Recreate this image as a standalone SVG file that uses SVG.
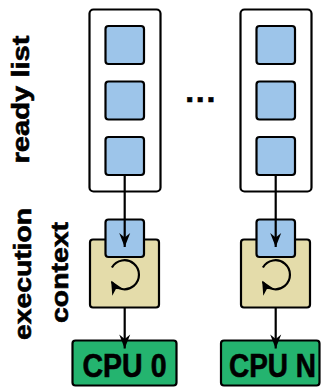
<svg xmlns="http://www.w3.org/2000/svg" width="330" height="387" viewBox="0 0 330 387">
  <style>
    .list { fill: #ffffff; stroke: #000; stroke-width: 2.2; }
    .task { fill: #9dc5ea; stroke: #000; stroke-width: 2.2; }
    .ctx { fill: #e4dcaa; stroke: #000; stroke-width: 2.2; }
    .cpu { fill: #24b46f; stroke: #000; stroke-width: 2.2; }
    .label { font-family: "Liberation Sans", Arial, sans-serif; font-weight: bold; fill: #000; stroke: #000; stroke-width: 0.6; }
    .edge { fill: none; stroke: #000; stroke-width: 2.2; }
  </style>
  <defs>
    <marker id="head" viewBox="-15 -6 16 12" markerWidth="16" markerHeight="12" refX="0" refY="0" orient="auto" markerUnits="userSpaceOnUse">
      <path d="M0,0 L-14,-5.5 L-9.5,0 L-14,5.5 Z" fill="#000"/>
    </marker>
    <marker id="spin" viewBox="-14 -7 16 14" markerWidth="16" markerHeight="14" refX="0" refY="0" orient="auto" markerUnits="userSpaceOnUse">
      <path d="M1.5,0 L-12,-6.5 L-8,0 L-12,6.5 Z" fill="#000"/>
    </marker>
  </defs>

  <!-- side labels -->
  <g id="label-ready">
    <text class="label" transform="translate(29,99.5) rotate(-90)" text-anchor="middle" font-size="24" textLength="128" lengthAdjust="spacingAndGlyphs">ready list</text>
  </g>
  <g id="label-context">
    <text class="label" transform="translate(30.5,274) rotate(-90)" text-anchor="middle" font-size="24" textLength="132" lengthAdjust="spacingAndGlyphs">execution</text>
    <text class="label" transform="translate(67.5,272.5) rotate(-90)" text-anchor="middle" font-size="24" textLength="101" lengthAdjust="spacingAndGlyphs">context</text>
  </g>

  <!-- CPU 0 column -->
  <g id="ready-list-0">
    <rect class="list" x="89.5" y="9.5" width="71" height="182" rx="4"/>
    <rect class="task" x="105.5" y="26" width="38.5" height="38" rx="3"/>
    <rect class="task" x="105.5" y="81.5" width="38.5" height="38" rx="3"/>
    <rect class="task" x="105.5" y="137" width="38.5" height="38" rx="3"/>
  </g>
  <g id="context-0">
    <rect class="ctx" x="90" y="239.5" width="69" height="68" rx="3"/>
    <rect class="task" x="105.5" y="219.5" width="38.5" height="37.5" rx="3"/>
    <path class="edge" d="M111.9,267.5 A14.5,14.5 0 1 1 111.9,282" stroke-width="2.4" marker-end="url(#spin)"/>
  </g>
  <g id="cpu-0">
    <rect class="cpu" x="72.5" y="340.5" width="104" height="45" rx="3"/>
    <text class="label" x="124.5" y="376.7" text-anchor="middle" font-size="32.5" textLength="84" lengthAdjust="spacingAndGlyphs">CPU 0</text>
  </g>

  <!-- ellipsis between columns -->
  <g id="more">
    <text class="label" x="185.3" y="101.7" font-size="32" textLength="30" lengthAdjust="spacing">...</text>
  </g>

  <!-- CPU N column -->
  <g id="ready-list-n">
    <rect class="list" x="240.5" y="9.5" width="71" height="182" rx="4"/>
    <rect class="task" x="256.5" y="26" width="38.5" height="38" rx="3"/>
    <rect class="task" x="256.5" y="81.5" width="38.5" height="38" rx="3"/>
    <rect class="task" x="256.5" y="137" width="38.5" height="38" rx="3"/>
  </g>
  <g id="context-n">
    <rect class="ctx" x="241" y="239.5" width="69" height="68" rx="3"/>
    <rect class="task" x="256.5" y="219.5" width="38.5" height="37.5" rx="3"/>
    <path class="edge" d="M262.9,267.5 A14.5,14.5 0 1 1 262.9,282" stroke-width="2.4" marker-end="url(#spin)"/>
  </g>
  <g id="cpu-n">
    <rect class="cpu" x="221" y="340.5" width="98.5" height="45" rx="3"/>
    <text class="label" x="272.5" y="376.7" text-anchor="middle" font-size="32.5" textLength="87" lengthAdjust="spacingAndGlyphs">CPU N</text>
  </g>

  <!-- connectors -->
  <g id="connectors">
    <line class="edge" x1="124.7" y1="175" x2="124.7" y2="247" marker-end="url(#head)"/>
    <line class="edge" x1="124.7" y1="307.5" x2="124.7" y2="348.5" marker-end="url(#head)"/>
    <line class="edge" x1="275.7" y1="175" x2="275.7" y2="247" marker-end="url(#head)"/>
    <line class="edge" x1="275.7" y1="307.5" x2="275.7" y2="348.5" marker-end="url(#head)"/>
  </g>
</svg>
